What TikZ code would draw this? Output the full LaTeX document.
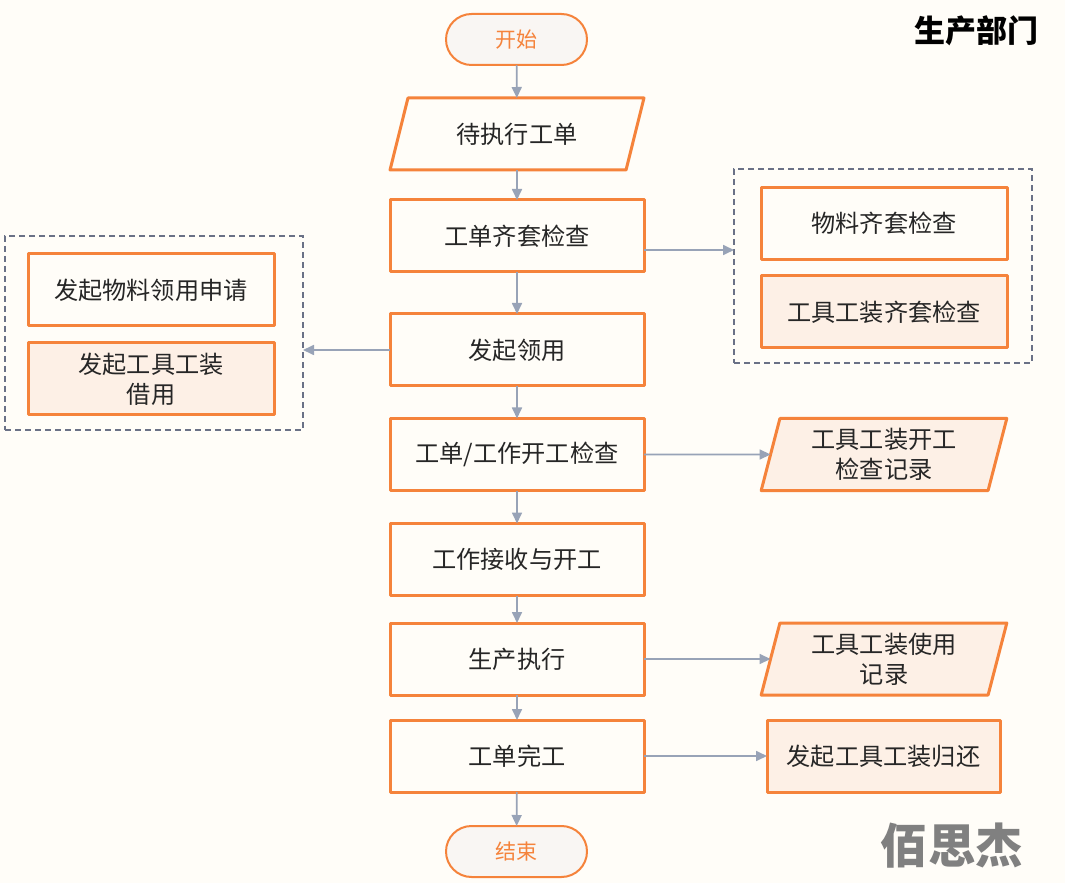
\documentclass[tikz,border=0pt]{standalone}
\usepackage{fontspec}
\setmainfont{Noto Sans CJK SC}
\usetikzlibrary{shapes.geometric,shapes.misc,arrows.meta}
\definecolor{bgcream}{HTML}{FFFDF8}
\definecolor{orangeline}{HTML}{F5833B}
\definecolor{softfill}{HTML}{FDF0E6}
\definecolor{pillfill}{HTML}{F9F6F3}
\definecolor{arrowgray}{HTML}{98A3B7}
\definecolor{dashgray}{HTML}{6A7186}
\definecolor{textdark}{HTML}{262626}
\tikzset{
  x=1pt,y=-1pt,
  base/.style={draw=orangeline,line width=3pt,text=textdark,font=\fontsize{24.2}{30}\selectfont,align=center,inner sep=0pt,outer sep=0pt,line join=round},
  stepbox/.style={base,rectangle,minimum width=254pt,minimum height=72pt},
  sidebox/.style={base,rectangle,minimum width=246pt,minimum height=72pt},
  soft/.style={fill=softfill},
  pill/.style={base,rounded rectangle,line width=2pt,fill=pillfill,text=orangeline,minimum width=141pt,minimum height=51pt,font=\fontsize{21}{26}\selectfont},
  para/.style={base,trapezium,trapezium left angle=76,trapezium right angle=104,trapezium stretches=true,minimum height=72pt},
  dashbox/.style={draw=dashgray,line width=1.5pt,dash pattern=on 6pt off 4pt,rectangle,inner sep=0pt,outer sep=0pt},
  flow/.style={draw=arrowgray,line width=1.7pt,-{Triangle[length=11pt,width=10pt]}},
}
\begin{document}
\begin{tikzpicture}
\useasboundingbox (0,0) rectangle (1080,885);
\fill[white] (0,0) rectangle (1080,885);
\fill[bgcream] (0,0) rectangle (1065,883);
\node[dashbox,minimum width=298pt,minimum height=194pt] (dashR) at (883,266) {};
\node[dashbox,minimum width=298pt,minimum height=194pt] (dashL) at (154,333) {};
\node[pill] (start) at (516.5,39.5) {开始};
\node[para,trapezium left angle=66,trapezium right angle=114,minimum width=254pt] (pending) at (517,134) {待执行工单};
\node[stepbox] (kit) at (517,236) {工单齐套检查};
\node[stepbox] (req) at (517,350) {发起领用};
\node[stepbox] (check) at (517,454.5) {工单/工作开工检查};
\node[stepbox] (recv) at (517,559.5) {工作接收与开工};
\node[stepbox] (exec) at (517,659) {生产执行};
\node[stepbox] (done) at (517,756) {工单完工};
\node[pill] (end) at (516.5,851.5) {结束};
\node[sidebox] (mat) at (884,223.5) {物料齐套检查};
\node[sidebox,soft] (tool) at (884,312) {工具工装齐套检查};
\node[sidebox] (apply) at (151,290) {发起物料领用申请};
\node[sidebox,soft] (borrow) at (151,379) {发起工具工装\\借用};
\node[para,soft,minimum width=246pt] (rec1) at (884,454.5) {工具工装开工\\检查记录};
\node[para,soft,minimum width=246pt] (rec2) at (884,659) {工具工装使用\\记录};
\node[base,rectangle,soft,minimum width=233pt,minimum height=72pt] (ret) at (883.5,756) {发起工具工装归还};
\node[inner sep=0pt,font=\fontsize{31}{36}\selectfont\bfseries,text=black] (title) at (976.5,31) {生产部门};
\node[inner sep=0pt,font=\fontsize{47.5}{50}\selectfont\bfseries,text=black!50] (mark) at (952,846) {佰思杰};
\draw[flow] (start) -- (pending);
\draw[flow] (pending) -- (kit);
\draw[flow] (kit) -- (req);
\draw[flow] (req) -- (check);
\draw[flow] (check) -- (recv);
\draw[flow] (recv) -- (exec);
\draw[flow] (exec) -- (done);
\draw[flow] (done) -- (end);
\draw[flow] ([yshift=-14pt]kit.east) -- ([yshift=16pt]dashR.west);
\draw[flow] (req.west) -- ([yshift=-17pt]dashL.east);
\draw[flow] (check.east) -- (rec1.west);
\draw[flow] (exec.east) -- (rec2.west);
\draw[flow] (done.east) -- (ret.west);
\end{tikzpicture}
\end{document}
